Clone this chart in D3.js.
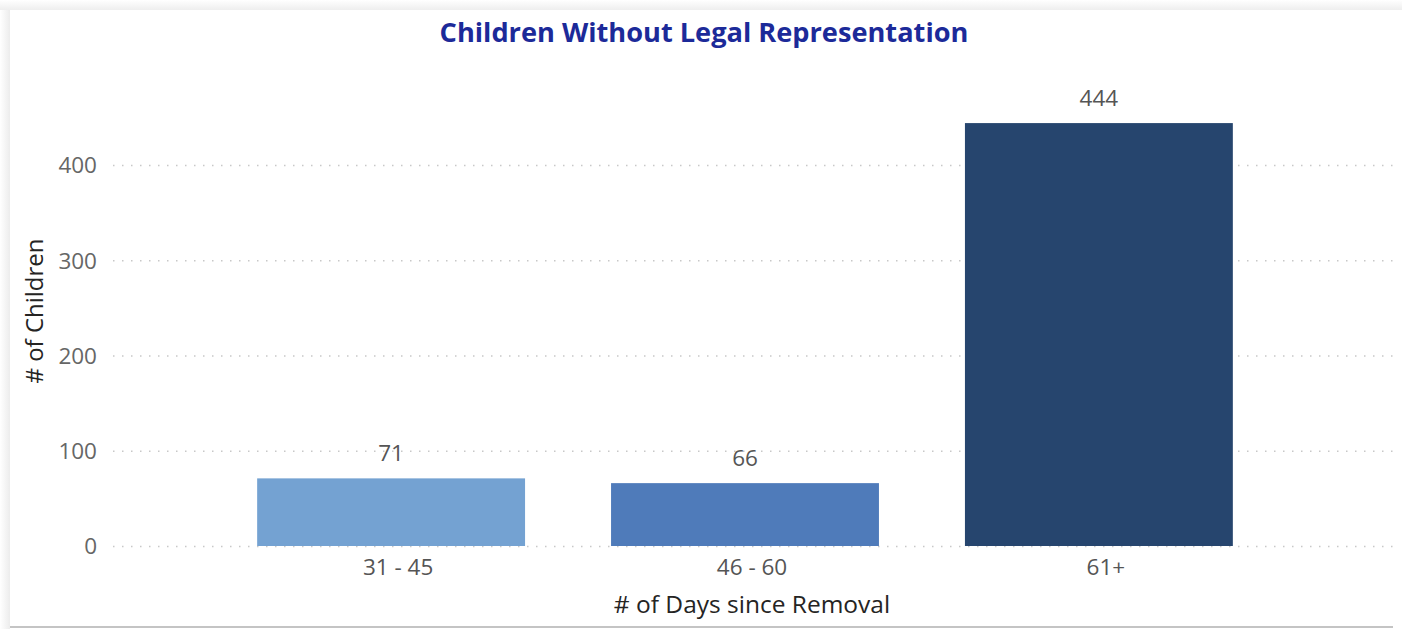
<!DOCTYPE html>
<html>
<head>
<meta charset="utf-8">
<script src="https://cdn.jsdelivr.net/npm/d3@7"></script>
<style>
  html, body { margin: 0; padding: 0; background: #ffffff; }
  svg { display: block; }
</style>
</head>
<body>
<svg id="chart" width="1402" height="629"></svg>
<script>
const categories = ["31 - 45", "46 - 60", "61+"];
const values = [71, 66, 444];
const barColors = ["#74a2d2", "#4f7bba", "#26456e"];
const yTicks = [0, 100, 200, 300, 400];
const titleText = "Children Without Legal Representation";
const xTitle = "# of Days since Removal";
const yTitle = "# of Children";

const svg = d3.select("#chart");
const W = 1402, H = 629;

// card background with soft shadow
const defs = svg.append("defs");
const gl = defs.append("linearGradient").attr("id", "gl").attr("x1", 0).attr("x2", 1);
gl.append("stop").attr("offset", "0%").attr("stop-color", "#ffffff");
gl.append("stop").attr("offset", "100%").attr("stop-color", "#ececec");
const gt = defs.append("linearGradient").attr("id", "gt").attr("x1", 0).attr("x2", 0).attr("y1", 0).attr("y2", 1);
gt.append("stop").attr("offset", "0%").attr("stop-color", "#ffffff");
gt.append("stop").attr("offset", "100%").attr("stop-color", "#eeeeee");
svg.append("rect").attr("x", 0).attr("y", 0).attr("width", W).attr("height", H).attr("fill", "#ffffff");
svg.append("rect").attr("x", 0).attr("y", 0).attr("width", 10).attr("height", H).attr("fill", "url(#gl)");
svg.append("rect").attr("x", 0).attr("y", 0).attr("width", W).attr("height", 10).attr("fill", "url(#gt)");
svg.append("rect").attr("x", 10).attr("y", 10).attr("width", 1383).attr("height", 617).attr("fill", "#ffffff");
svg.append("rect").attr("x", 10).attr("y", 626).attr("width", 1383).attr("height", 2).attr("fill", "#c4c4c4");

const x = d3.scaleBand()
  .domain(categories)
  .range([197, 1293])
  .paddingInner(0.243)
  .paddingOuter(0.17);

const y = d3.scaleLinear().domain([0, 400]).range([546, 165]);

// gridlines
const grid = svg.append("g");
grid.selectAll("line").data(yTicks).join("line")
  .attr("x1", 113).attr("x2", 1393)
  .attr("y1", d => y(d) + 0.5).attr("y2", d => y(d) + 0.5)
  .attr("stroke", "#c8c8c8").attr("stroke-width", 1.5)
  .attr("stroke-dasharray", "1.5,7.5");

// y axis
const yAxis = d3.axisLeft(y).tickValues(yTicks).tickSize(0).tickPadding(0);
const yg = svg.append("g").attr("transform", "translate(97,0)").call(yAxis);
yg.select(".domain").remove();
yg.selectAll("text")
  .attr("font-family", "'Open Sans', sans-serif")
  .attr("font-size", 22.5)
  .attr("fill", "#666666")
  .attr("dy", "0.35em");

// bars
svg.append("g").selectAll("rect").data(values).join("rect")
  .attr("x", (d, i) => x(categories[i]))
  .attr("width", x.bandwidth())
  .attr("y", d => y(d))
  .attr("height", d => y(0) - y(d))
  .attr("fill", (d, i) => barColors[i]);

// value labels
svg.append("g").selectAll("text").data(values).join("text")
  .attr("x", (d, i) => x(categories[i]) + x.bandwidth() / 2)
  .attr("y", d => y(d) - 17)
  .attr("text-anchor", "middle")
  .attr("font-family", "'Open Sans', sans-serif")
  .attr("font-size", 22.5)
  .attr("fill", "#555555")
  .text(d => d);

// x axis
const xAxis = d3.axisBottom(x).tickSize(0).tickPadding(0);
const xg = svg.append("g").attr("transform", "translate(0,559)").call(xAxis);
xg.select(".domain").remove();
xg.selectAll("text")
  .attr("font-family", "'Open Sans', sans-serif")
  .attr("font-size", 22.5)
  .attr("fill", "#555555")
  .attr("dx", 7)
  .attr("dy", "0.71em");

// axis titles
svg.append("text")
  .attr("x", 752).attr("y", 613)
  .attr("text-anchor", "middle")
  .attr("font-family", "'Open Sans', sans-serif")
  .attr("font-size", 24.5)
  .attr("fill", "#252423")
  .text(xTitle);

svg.append("text")
  .attr("transform", "translate(43,311) rotate(-90)")
  .attr("text-anchor", "middle")
  .attr("font-family", "'Open Sans', sans-serif")
  .attr("font-size", 24)
  .attr("fill", "#252423")
  .text(yTitle);

// title
svg.append("text")
  .attr("x", 704).attr("y", 42)
  .attr("text-anchor", "middle")
  .attr("font-family", "'Open Sans', sans-serif")
  .attr("font-weight", "bold")
  .attr("font-size", 27.2)
  .attr("fill", "#1c2a99")
  .text(titleText);
</script>
</body>
</html>
